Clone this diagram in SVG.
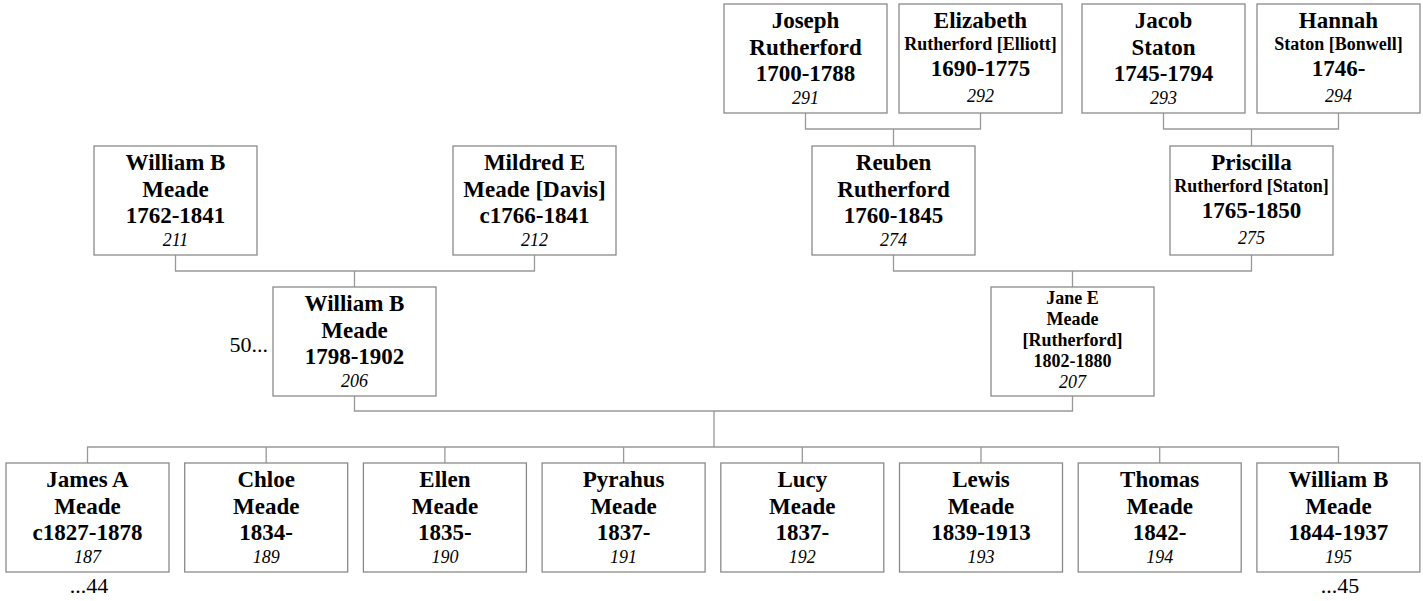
<svg xmlns="http://www.w3.org/2000/svg" width="1423" height="601" viewBox="0 0 1423 601">
<style>
.box{fill:#fff;stroke:#8a8a8a;stroke-width:1.3}
.ln{fill:none;stroke:#999;stroke-width:1.3}
text{font-family:"Liberation Serif","Times New Roman",serif;text-anchor:middle;fill:#000}
.b{font-weight:bold;font-size:23px}
.s{font-weight:bold;font-size:18px}
.i{font-style:italic;font-size:18px}
.r{font-size:22px}
</style>
<rect width="1423" height="601" fill="#fff"/>
<g id="connectors">
<path class="ln" d="M805.5,113 V129 H980.5 V113 M893.5,129 V146"/>
<path class="ln" d="M1163.5,113 V129 H1338.5 V113 M1251.5,129 V146"/>
<path class="ln" d="M175.5,255 V271 H534.5 V255 M354.5,271 V287"/>
<path class="ln" d="M893.5,255 V271 H1251.5 V255 M1072.5,271 V287"/>
<path class="ln" d="M354.5,396 V411 H1072.5 V396 M714,411 V447"/>
<path class="ln" d="M87.5,463 V447 H1338.5 V463 M266.2,447 V463 M444.9,447 V463 M623.6,447 V463 M802.3,447 V463 M981,447 V463 M1159.7,447 V463"/>
</g>
<g id="n291"><rect class="box" x="724" y="4" width="163" height="109"/>
<text class="b" x="805.5" y="28">Joseph</text><text class="b" x="805.5" y="54.5">Rutherford</text><text class="b" x="805.5" y="81">1700-1788</text><text class="i" x="805.5" y="104">291</text></g>
<g id="n292"><rect class="box" x="899" y="4" width="163" height="109"/>
<text class="b" x="980.5" y="27.5">Elizabeth</text><text class="s" x="980.5" y="50">Rutherford [Elliott]</text><text class="b" x="980.5" y="76">1690-1775</text><text class="i" x="980.5" y="102">292</text></g>
<g id="n293"><rect class="box" x="1082" y="4" width="163" height="109"/>
<text class="b" x="1163.5" y="28">Jacob</text><text class="b" x="1163.5" y="54.5">Staton</text><text class="b" x="1163.5" y="81">1745-1794</text><text class="i" x="1163.5" y="104">293</text></g>
<g id="n294"><rect class="box" x="1257" y="4" width="163" height="109"/>
<text class="b" x="1338.5" y="27.5">Hannah</text><text class="s" x="1338.5" y="50">Staton [Bonwell]</text><text class="b" x="1338.5" y="76">1746-</text><text class="i" x="1338.5" y="102">294</text></g>
<g id="n211"><rect class="box" x="94" y="146" width="163" height="109"/>
<text class="b" x="175.5" y="170">William B</text><text class="b" x="175.5" y="196.5">Meade</text><text class="b" x="175.5" y="223">1762-1841</text><text class="i" x="175.5" y="246">211</text></g>
<g id="n212"><rect class="box" x="453" y="146" width="163" height="109"/>
<text class="b" x="534.5" y="170">Mildred E</text><text class="b" x="534.5" y="196.5">Meade [Davis]</text><text class="b" x="534.5" y="223">c1766-1841</text><text class="i" x="534.5" y="246">212</text></g>
<g id="n274"><rect class="box" x="812" y="146" width="163" height="109"/>
<text class="b" x="893.5" y="170">Reuben</text><text class="b" x="893.5" y="196.5">Rutherford</text><text class="b" x="893.5" y="223">1760-1845</text><text class="i" x="893.5" y="246">274</text></g>
<g id="n275"><rect class="box" x="1170" y="146" width="163" height="109"/>
<text class="b" x="1251.5" y="169.5">Priscilla</text><text class="s" x="1251.5" y="192">Rutherford [Staton]</text><text class="b" x="1251.5" y="218">1765-1850</text><text class="i" x="1251.5" y="244">275</text></g>
<g id="n206"><rect class="box" x="273" y="287" width="163" height="109"/>
<text class="b" x="354.5" y="311">William B</text><text class="b" x="354.5" y="337.5">Meade</text><text class="b" x="354.5" y="364">1798-1902</text><text class="i" x="354.5" y="387">206</text>
<text class="r" x="268" y="352" style="text-anchor:end">50...</text></g>
<g id="n207"><rect class="box" x="991" y="287" width="163" height="109"/>
<text class="s" x="1072.5" y="304">Jane E</text><text class="s" x="1072.5" y="325">Meade</text><text class="s" x="1072.5" y="346">[Rutherford]</text><text class="s" x="1072.5" y="367">1802-1880</text><text class="i" x="1072.5" y="388">207</text></g>
<g id="n187"><rect class="box" x="6" y="463" width="163" height="109"/>
<text class="b" x="87.5" y="487">James A</text><text class="b" x="87.5" y="513.5">Meade</text><text class="b" x="87.5" y="540">c1827-1878</text><text class="i" x="87.5" y="563">187</text>
<text class="r" x="89" y="593">...44</text></g>
<g id="n189"><rect class="box" x="184.7" y="463" width="163" height="109"/>
<text class="b" x="266.2" y="487">Chloe</text><text class="b" x="266.2" y="513.5">Meade</text><text class="b" x="266.2" y="540">1834-</text><text class="i" x="266.2" y="563">189</text></g>
<g id="n190"><rect class="box" x="363.4" y="463" width="163" height="109"/>
<text class="b" x="444.9" y="487">Ellen</text><text class="b" x="444.9" y="513.5">Meade</text><text class="b" x="444.9" y="540">1835-</text><text class="i" x="444.9" y="563">190</text></g>
<g id="n191"><rect class="box" x="542.1" y="463" width="163" height="109"/>
<text class="b" x="623.6" y="487">Pyrahus</text><text class="b" x="623.6" y="513.5">Meade</text><text class="b" x="623.6" y="540">1837-</text><text class="i" x="623.6" y="563">191</text></g>
<g id="n192"><rect class="box" x="720.8" y="463" width="163" height="109"/>
<text class="b" x="802.3" y="487">Lucy</text><text class="b" x="802.3" y="513.5">Meade</text><text class="b" x="802.3" y="540">1837-</text><text class="i" x="802.3" y="563">192</text></g>
<g id="n193"><rect class="box" x="899.5" y="463" width="163" height="109"/>
<text class="b" x="981" y="487">Lewis</text><text class="b" x="981" y="513.5">Meade</text><text class="b" x="981" y="540">1839-1913</text><text class="i" x="981" y="563">193</text></g>
<g id="n194"><rect class="box" x="1078.2" y="463" width="163" height="109"/>
<text class="b" x="1159.7" y="487">Thomas</text><text class="b" x="1159.7" y="513.5">Meade</text><text class="b" x="1159.7" y="540">1842-</text><text class="i" x="1159.7" y="563">194</text></g>
<g id="n195"><rect class="box" x="1256.9" y="463" width="163" height="109"/>
<text class="b" x="1338.4" y="487">William B</text><text class="b" x="1338.4" y="513.5">Meade</text><text class="b" x="1338.4" y="540">1844-1937</text><text class="i" x="1338.4" y="563">195</text>
<text class="r" x="1340" y="593">...45</text></g>
</svg>
